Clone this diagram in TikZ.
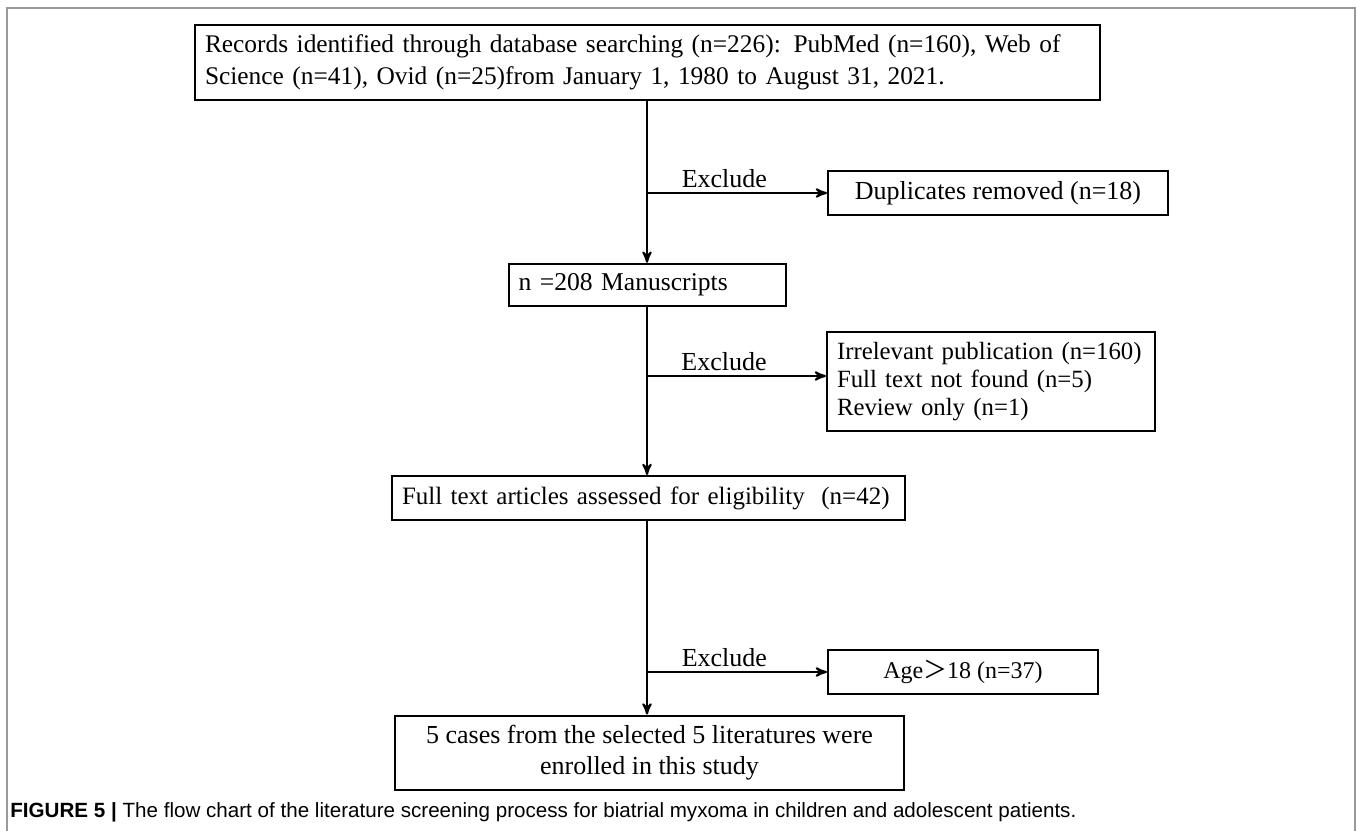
\documentclass[tikz,border=0pt]{standalone}
\usepackage{fontspec}
\setmainfont{Liberation Serif}
\newfontfamily\capfont{Liberation Sans}
\newfontfamily\cjk{Noto Sans CJK SC}
\usepackage{tikz}
\usetikzlibrary{arrows,fit,positioning}
\tikzset{
    %Define standard arrow tip
    >=stealth',
    %Define style for boxes
    stagebox/.style={
           rectangle,
           draw=black, line width=1pt,
           inner sep=5pt,
           font=\fontsize{12.8}{16}\selectfont,
           text centered},
    leftbox/.style={
           stagebox,
           align=left},
    % Define arrow style
    pil/.style={
           ->,
           line width=1pt,
           shorten <=0pt,
           shorten >=0pt,},
    exlabel/.style={
           font=\fontsize{13}{15}\selectfont,
           anchor=south, pos=0.43,
           inner sep=2pt}
}
\hyphenpenalty=10000

\begin{document}
\begin{tikzpicture}[x=0.5pt,y=-0.5pt]
\useasboundingbox (0,0) rectangle (1357,831);
% outer frame
\draw[gray!80, line width=1pt] (7,831) -- (7,8) -- (1355,8) -- (1355,831);
% boxes
\node[leftbox, minimum width=452.5pt, minimum height=35.5pt, text width=442.5pt,
      font=\fontsize{12.7}{16}\selectfont](records) at (647.5,62.5)
    {Records identified through database searching (n=226): PubMed (n=160), Web of\\Science (n=41), Ovid (n=25)from January 1, 1980 to August 31, 2021.};
\node[stagebox, minimum width=170pt, minimum height=21pt, font=\fontsize{13}{16}\selectfont](dup) at (998,193){Duplicates removed (n=18)};
\node[leftbox, minimum width=138.5pt, minimum height=21pt, text width=128.5pt](manu) at (647,285){n =208 Manuscripts};
\node[leftbox, minimum width=163pt, minimum height=48.5pt, text width=154pt,
      font=\fontsize{12.4}{14}\selectfont](irr) at (991,381.5)
    {Irrelevant publication (n=160)\\Full text not found (n=5)\\Review only (n=1)};
\node[leftbox, minimum width=256.5pt, minimum height=22pt, text width=246.5pt,
      font=\fontsize{12.5}{15}\selectfont](full) at (648.5,498)
    {Full text articles assessed for eligibility~~(n=42)};
\node[stagebox, minimum width=135pt, minimum height=20pt, font=\fontsize{12}{15}\selectfont](age) at (963,672){Age{\cjk ＞}18 (n=37)};
\node[stagebox, minimum width=254.5pt, minimum height=37pt, align=center,
      font=\fontsize{13}{15.5}\selectfont](final) at (649.5,753)
    {5 cases from the selected 5 literatures were\\enrolled in this study};
% branch points
\coordinate (b1) at (647,193);
\coordinate (b2) at (647,376);
\coordinate (b3) at (647,672);
% connectors
\draw[pil] (records.south -| manu.north) -- (manu.north);
\draw[pil] (manu.south) -- (full.north -| manu.south);
\draw[pil] (full.south -| manu.south) -- (final.north -| manu.south);
\draw[pil] (b1) -- node[exlabel]{Exclude} (dup.west);
\draw[pil] (b2) -- node[exlabel]{Exclude} (b2 -| irr.west);
\draw[pil] (b3) -- node[exlabel]{Exclude} (age.west);
% caption
\node[anchor=west, inner sep=0pt, font=\capfont\fontsize{10.3}{12}\selectfont](cap) at (10,812)
    {\textbf{FIGURE 5 |} The flow chart of the literature screening process for biatrial myxoma in children and adolescent patients.};
\end{tikzpicture}
\end{document}
